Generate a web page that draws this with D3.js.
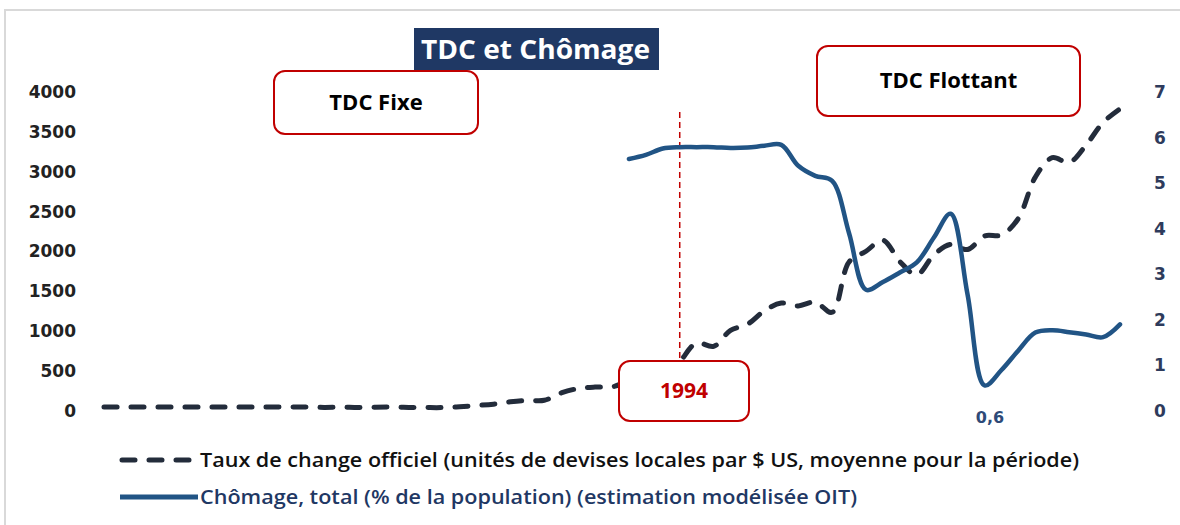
<!DOCTYPE html>
<html>
<head>
<meta charset="utf-8">
<script src="https://cdn.jsdelivr.net/npm/d3@7"></script>
<style>
  body { margin: 0; background: #fff; font-family: 'Open Sans', sans-serif; }
  svg { display: block; }
</style>
</head>
<body>
<div id="chart"></div>
<script>
// years 1960..2020
const years = d3.range(1960, 2021);

// Taux de change officiel (MGA par $ US)
const tdc = [
  49, 49, 49, 49, 49, 49, 49, 49, 49, 49,
  49, 50, 51, 45, 48, 43, 48, 49, 45, 43,
  43, 54, 69, 86, 115, 133, 134, 226, 282, 300,
  303, 370, 372, 382, 615, 853, 810, 1011, 1088, 1257,
  1353, 1318, 1366, 1238, 1869, 2003, 2142, 1874, 1708, 1956,
  2090, 2025, 2195, 2207, 2415, 2933, 3176, 3116, 3335, 3618,
  3788
];

// Chômage, total (% de la population) 1991..2020
const chomYears = d3.range(1991, 2021);
const chomage = [
  5.53, 5.62, 5.76, 5.79, 5.79, 5.79, 5.77, 5.78, 5.82, 5.84,
  5.38, 5.16, 5.05, 3.9, 2.66, 2.83, 3.04, 3.26, 3.8, 4.33,
  2.55, 0.56, 0.9, 1.33, 1.72, 1.77, 1.73, 1.68, 1.62, 1.9
];

const leftTicks = [0, 500, 1000, 1500, 2000, 2500, 3000, 3500, 4000];
const rightTicks = [0, 1, 2, 3, 4, 5, 6, 7];

const W = 1180, H = 525;
const svg = d3.select("#chart").append("svg").attr("width", W).attr("height", H);

// frame
svg.append("rect").attr("x", 5).attr("y", 10).attr("width", W + 10).attr("height", H)
  .attr("fill", "none").attr("stroke", "#d9d9d9").attr("stroke-width", 2);

const x = d3.scaleLinear().domain([1960, 2020]).range([104, 1120]);
const yL = d3.scaleLinear().domain([0, 4000]).range([411, 92]);
const yR = d3.scaleLinear().domain([0, 7]).range([411, 92]);

// axes
const axL = svg.append("g").attr("transform", "translate(80,0)")
  .call(d3.axisLeft(yL).tickValues(leftTicks).tickSize(0).tickPadding(4).tickFormat(d3.format("d")));
axL.select(".domain").remove();
axL.selectAll("text").attr("font-family", "'DejaVu Sans', sans-serif")
  .attr("font-size", 17).attr("font-weight", 700).attr("fill", "#222");

const axR = svg.append("g").attr("transform", "translate(1152,0)")
  .call(d3.axisRight(yR).tickValues(rightTicks).tickSize(0).tickPadding(2).tickFormat(d3.format("d")));
axR.select(".domain").remove();
axR.selectAll("text").attr("font-family", "'DejaVu Sans', sans-serif")
  .attr("font-size", 17).attr("font-weight", 700).attr("fill", "#2e3b5c");

// vertical 1994 line
svg.append("line").attr("x1", x(1994)).attr("x2", x(1994)).attr("y1", 112).attr("y2", 362)
  .attr("stroke", "#c00000").attr("stroke-width", 1.5).attr("stroke-dasharray", "6,4");

// lines
const lineL = d3.line().x((d, i) => x(years[i])).y(d => yL(d)).curve(d3.curveCatmullRom.alpha(0.5));
svg.append("path").datum(tdc).attr("d", lineL).attr("fill", "none")
  .attr("stroke", "#232c3b").attr("stroke-width", 5).attr("stroke-linecap", "round")
  .attr("stroke-dasharray", "13,14");

const lineR = d3.line().x((d, i) => x(chomYears[i])).y(d => yR(d)).curve(d3.curveCatmullRom.alpha(0.5));
svg.append("path").datum(chomage).attr("d", lineR).attr("fill", "none")
  .attr("stroke", "#215485").attr("stroke-width", 4.5).attr("stroke-linejoin", "round")
  .attr("stroke-linecap", "round");

// 0,6 label
svg.append("text").attr("x", 990).attr("y", 423).attr("text-anchor", "middle")
  .attr("font-family", "'DejaVu Sans', sans-serif")
  .attr("font-size", 16).attr("font-weight", 700).attr("fill", "#2e4a78").text("0,6");

// title
svg.append("rect").attr("x", 414).attr("y", 28).attr("width", 245).attr("height", 42).attr("fill", "#1f3864");
svg.append("text").attr("x", 421).attr("y", 59)
  .attr("font-size", 26).attr("font-weight", 700).attr("fill", "#fff")
  .attr("textLength", 229).attr("lengthAdjust", "spacingAndGlyphs").text("TDC et Chômage");

// annotation boxes
const boxes = [
  { x: 274, y: 71, w: 204, h: 63, t: "TDC Fixe", c: "#000", fs: 22 },
  { x: 817, y: 46, w: 263, h: 70, t: "TDC Flottant", c: "#000", fs: 22 },
  { x: 619, y: 361, w: 130, h: 60, t: "1994", c: "#c00000", fs: 21 }
];
boxes.forEach(b => {
  svg.append("rect").attr("x", b.x).attr("y", b.y).attr("width", b.w).attr("height", b.h)
    .attr("rx", 11).attr("fill", "#fff").attr("stroke", "#c00000").attr("stroke-width", 2);
  svg.append("text").attr("x", b.x + b.w / 2).attr("y", b.y + b.h / 2 + 7).attr("text-anchor", "middle")
    .attr("font-size", b.fs).attr("font-weight", 700).attr("fill", b.c).text(b.t);
});

// legend
svg.append("line").attr("x1", 122).attr("x2", 190).attr("y1", 460).attr("y2", 460)
  .attr("stroke", "#232c3b").attr("stroke-width", 5).attr("stroke-linecap", "round")
  .attr("stroke-dasharray", "13,14");
svg.append("text").attr("x", 200).attr("y", 467).attr("font-size", 19).attr("font-weight", 600)
  .attr("fill", "#111").attr("textLength", 879).attr("lengthAdjust", "spacingAndGlyphs")
  .text("Taux de change officiel (unités de devises locales par $ US, moyenne pour la période)");
svg.append("line").attr("x1", 120).attr("x2", 198).attr("y1", 497).attr("y2", 497)
  .attr("stroke", "#215485").attr("stroke-width", 5);
svg.append("text").attr("x", 200).attr("y", 504).attr("font-size", 19).attr("font-weight", 600)
  .attr("fill", "#1f3864").attr("textLength", 657).attr("lengthAdjust", "spacingAndGlyphs")
  .text("Chômage, total (% de la population) (estimation modélisée OIT)");
</script>
</body>
</html>
